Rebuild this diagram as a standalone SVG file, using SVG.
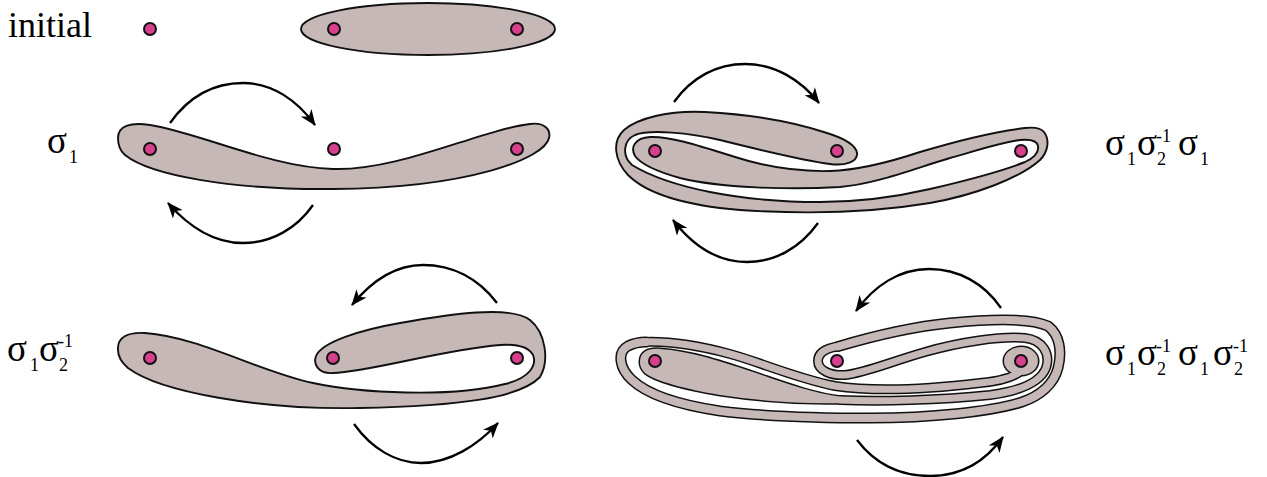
<svg xmlns="http://www.w3.org/2000/svg" width="1267" height="477" viewBox="0 0 1267 477">
<defs>
<style>
.sh{fill:#c7b8b8;stroke:#111;stroke-width:1.9;stroke-linejoin:round}
.dot{fill:#d6408d;stroke:#111;stroke-width:2}
.arr{fill:none;stroke:#000;stroke-width:2.3;marker-end:url(#ah)}
.lbl{font-family:"Liberation Serif","Times New Roman",serif;fill:#000}
.bk{fill:none;stroke:#111;stroke-linecap:round;stroke-linejoin:round}
.gr{fill:none;stroke:#c7b8b8;stroke-linecap:round;stroke-linejoin:round}
</style>
<marker id="ah" viewBox="0 0 16 13" refX="15" refY="6.5" markerWidth="16" markerHeight="13" orient="auto" markerUnits="userSpaceOnUse"><path d="M0,0 L16,6.5 L0,13 L4.5,6.5 Z" fill="#000"/></marker>
</defs>
<rect width="1267" height="477" fill="#fff"/>

<g id="initial">
<ellipse class="sh" cx="428" cy="29" rx="127" ry="26"/>
<circle class="dot" cx="150" cy="29" r="6"/>
<circle class="dot" cx="334" cy="29" r="6"/>
<circle class="dot" cx="517" cy="29" r="6"/>
</g>

<g id="sigma1">
<path class="sh" d="M118,138 C118,126 130,122 150,125 C200,133 270,167 333,169 C400,171 480,130 530,124 C545,122 551,130 549,138 C545,158 470,188 333,189 C230,190 150,175 125,155 C119,150 118,144 118,138 Z"/>
<circle class="dot" cx="150" cy="149" r="6"/>
<circle class="dot" cx="334" cy="149" r="6"/>
<circle class="dot" cx="517" cy="149" r="6"/>
</g>

<g id="sigma1sigma2inv">
<path class="sh" d="M118,350 C117,337 128,332 145,333 C200,337 260,372 313,383 C360,393 450,398 505,384 C530,378 537,365 533,355 C528,346 515,344 500,345 C440,350 370,372 333,373 C318,374 313,364 316,356 C322,342 360,330 400,323 C450,314 510,305 530,320 C545,332 550,360 540,377 C520,398 460,406 360,408 C260,410 160,392 128,368 C121,362 118,356 118,350 Z"/>
<circle class="dot" cx="150" cy="358" r="6"/>
<circle class="dot" cx="333" cy="358" r="6"/>
<circle class="dot" cx="517" cy="358" r="6"/>
</g>

<g id="sigma1sigma2invsigma1">
<path class="sh" d="M857,153 C856,146 846,139 827,133 C800,124 760,115 705,112 C670,110 638,118 624,130 C612,141 614,160 628,175 C645,192 680,205 740,210 C800,214 870,213 930,203 C975,195 1020,178 1040,160 C1048,152 1050,140 1044,132 C1040,127 1033,127 1025,128 C1000,131 960,140 920,152 C890,162 860,170 830,171 C790,172 760,165 735,157 C700,146 670,136 650,137 C635,138 630,147 635,156 C640,163 655,171 680,178 C720,188 790,190 840,187 C875,184 910,170 950,158 C975,151 1000,143 1020,140 C1030,139 1037,140 1038,146 C1039,152 1034,158 1025,162 C1000,172 960,182 930,189 C900,196 860,202 820,202 C780,202 740,198 710,192 C680,186 650,176 632,165 C621,155 624,140 635,135 C650,129 690,133 720,140 C760,150 800,160 830,164 C845,166 858,162 857,153 Z"/>
<circle class="dot" cx="655" cy="151" r="6"/>
<circle class="dot" cx="837" cy="151" r="6"/>
<circle class="dot" cx="1021" cy="151" r="6"/>
</g>

<g id="sigma1sigma2invsigma1sigma2inv">
<g class="bk">
<path stroke-width="11" d="M838,346.5 C870,337 910,327 950,323 C990,319 1030,318 1048,326 C1060,335 1062,352 1058,368 C1054,384 1040,396 1022,402 C990,412 930,418 870,418 C820,418 760,416 720,411 C680,405 648,395 632,380 C619,368 617,352 628,346 C634,343 640,342 646,342"/>
<path stroke-width="10" d="M644,342 C670,341 700,346 730,354 C760,362 795,378 835,386 C875,392 930,389 980,383 C1000,381 1015,377 1022,370"/>
<path stroke-width="10" d="M840,400 C880,402 940,400 990,395 C1020,391 1040,383 1046,368 C1051,353 1042,340 1025,338 C1000,336 960,342 925,352 C890,362 865,373 845,375 C830,376 818,370 818,361 C818,353 826,348 840,346"/>
<path fill="#111" stroke-width="3" d="M640,362 C640,352 648,348 660,349 C690,351 720,361 750,371 C780,381 810,393 842,397 L842,403 C800,404 760,401 720,395 C685,389 655,381 645,373 C641,369 640,365 640,362 Z"/>
<ellipse fill="#111" stroke-width="3" cx="1021" cy="361" rx="17" ry="14"/>
</g>
<g class="gr">
<path stroke-width="8" d="M838,346.5 C870,337 910,327 950,323 C990,319 1030,318 1048,326 C1060,335 1062,352 1058,368 C1054,384 1040,396 1022,402 C990,412 930,418 870,418 C820,418 760,416 720,411 C680,405 648,395 632,380 C619,368 617,352 628,346 C634,343 640,342 646,342"/>
<path stroke-width="7" d="M644,342 C670,341 700,346 730,354 C760,362 795,378 835,386 C875,392 930,389 980,383 C1000,381 1015,377 1022,370"/>
<path stroke-width="7" d="M840,400 C880,402 940,400 990,395 C1020,391 1040,383 1046,368 C1051,353 1042,340 1025,338 C1000,336 960,342 925,352 C890,362 865,373 845,375 C830,376 818,370 818,361 C818,353 826,348 840,346"/>
<path fill="#c7b8b8" stroke="none" d="M640,362 C640,352 648,348 660,349 C690,351 720,361 750,371 C780,381 810,393 842,397 L842,403 C800,404 760,401 720,395 C685,389 655,381 645,373 C641,369 640,365 640,362 Z"/>
<ellipse fill="#c7b8b8" stroke="none" cx="1021" cy="361" rx="17" ry="14"/>
</g>
<circle class="dot" cx="655" cy="361" r="6"/>
<circle class="dot" cx="837" cy="361" r="6"/>
<circle class="dot" cx="1021" cy="361" r="6"/>
</g>

<g id="connectors">
<path class="arr" d="M170,123 C190,95 215,83 243,83 C272,83 297,100 315,125"/>
<path class="arr" d="M313,205 C297,228 272,243 243,243 C214,243 188,226 168,203"/>
<path class="arr" d="M497,303 C478,278 452,265 423,265 C394,265 370,283 352,305"/>
<path class="arr" d="M354,424 C372,449 396,463 421,463 C449,463 477,446 498,423"/>
<path class="arr" d="M674,102 C692,77 717,64 745,64 C775,64 801,80 819,103"/>
<path class="arr" d="M818,223 C800,248 775,262 747,262 C718,262 693,246 673,220"/>
<path class="arr" d="M1001,308 C984,283 958,269 929,269 C899,269 874,286 856,311"/>
<path class="arr" d="M857,440 C876,465 902,476 930,476 C960,476 985,462 1003,437"/>
</g>

<g id="labels" class="lbl" font-family="Liberation Serif, Times New Roman, serif">
<text x="8" y="37" font-size="36">initial</text>
<text x="47" y="153" font-size="37">σ</text><text x="69" y="163" font-size="18">1</text>
<text x="7" y="361" font-size="37">σ</text><text x="30" y="371" font-size="18">1</text>
<text x="39" y="361" font-size="37">σ</text><text x="58" y="347" font-size="18">-1</text><text x="59" y="371" font-size="18">2</text>
<text x="1105" y="155" font-size="37">σ</text><text x="1127" y="165" font-size="18">1</text>
<text x="1137" y="155" font-size="37">σ</text><text x="1156" y="142" font-size="18">-1</text><text x="1157" y="165" font-size="18">2</text>
<text x="1178" y="155" font-size="37">σ</text><text x="1200" y="165" font-size="18">1</text>
<text x="1105" y="365" font-size="37">σ</text><text x="1127" y="375" font-size="18">1</text>
<text x="1137" y="365" font-size="37">σ</text><text x="1156" y="352" font-size="18">-1</text><text x="1157" y="375" font-size="18">2</text>
<text x="1178" y="365" font-size="37">σ</text><text x="1200" y="375" font-size="18">1</text>
<text x="1213" y="365" font-size="37">σ</text><text x="1233" y="352" font-size="18">-1</text><text x="1234" y="375" font-size="18">2</text>
</g>
</svg>
